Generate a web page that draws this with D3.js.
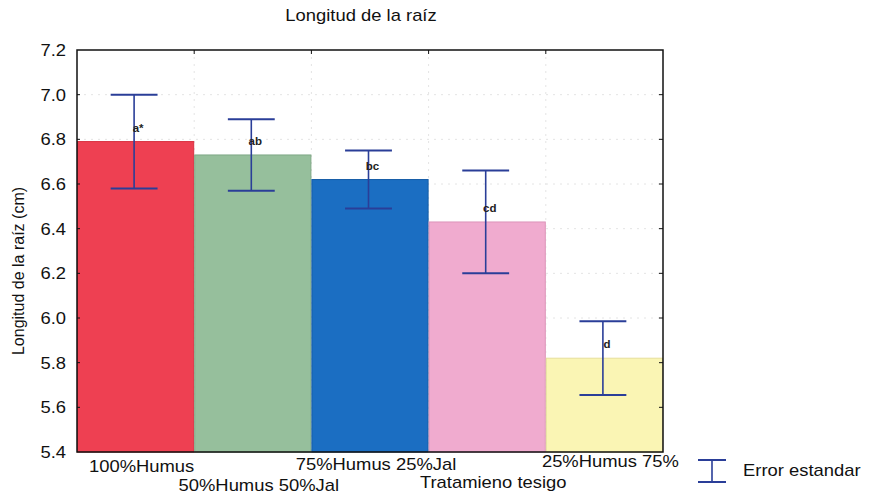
<!DOCTYPE html>
<html>
<head>
<meta charset="utf-8">
<script src="https://cdn.jsdelivr.net/npm/d3@7/dist/d3.min.js"></script>
<style>
  html, body { margin: 0; padding: 0; background: #fff; }
  text { font-family: "Liberation Sans", Arial, sans-serif; }
</style>
</head>
<body>
<svg id="chart" width="873" height="495"></svg>
<script>
// Root length per treatment: mean, standard error and significance letter
const categories = ["100%Humus", "50%Humus 50%Jal", "75%Humus 25%Jal", "Tratamieno tesigo", "25%Humus 75%"];
const means = [6.79, 6.73, 6.62, 6.43, 5.82];
const stdErr = [0.21, 0.16, 0.13, 0.23, 0.165];
const letters = ["a*", "ab", "bc", "cd", "d"];
const barColors = ["#ee4052", "#96bf9c", "#1b6ec2", "#f0abcf", "#faf5b4"];
const barEdges = ["#d83040", "#7fa886", "#155ca6", "#dc95ba", "#e6df9c"];
const yTicks = [5.4, 5.6, 5.8, 6.0, 6.2, 6.4, 6.6, 6.8, 7.0, 7.2];

const svg = d3.select("#chart");
const plot = { left: 77, right: 663, top: 50, bottom: 452 };
const SX = 1.15; // horizontal text stretch

const x = d3.scaleBand().domain(categories).range([plot.left, plot.right]).padding(0);
const y = d3.scaleLinear().domain([5.4, 7.2]).range([plot.bottom, plot.top]);

function label(g, px, py, str, size, anchor) {
  return g.append("text")
    .attr("transform", `translate(${px},${py}) scale(${SX},1)`)
    .attr("font-size", size)
    .attr("text-anchor", anchor || "middle")
    .attr("fill", "#111")
    .text(str);
}

// Faint dotted grid
const grid = svg.append("g");
grid.selectAll("line.h").data(yTicks.slice(1, -1)).join("line")
  .attr("x1", plot.left).attr("x2", plot.right)
  .attr("y1", d => y(d)).attr("y2", d => y(d))
  .attr("stroke", "#e4e4e4").attr("stroke-width", 1).attr("stroke-dasharray", "2,5");
grid.selectAll("line.v").data(categories.slice(1)).join("line")
  .attr("x1", d => x(d)).attr("x2", d => x(d))
  .attr("y1", plot.top).attr("y2", plot.bottom)
  .attr("stroke", "#e4e4e4").attr("stroke-width", 1).attr("stroke-dasharray", "2,5");

// Bars
svg.append("g").selectAll("rect").data(categories).join("rect")
  .attr("x", d => x(d) + 0.5)
  .attr("width", x.bandwidth() - 1)
  .attr("y", (d, i) => y(means[i]))
  .attr("height", (d, i) => plot.bottom - y(means[i]))
  .attr("fill", (d, i) => barColors[i])
  .attr("stroke", (d, i) => barEdges[i])
  .attr("stroke-width", 1);

// Error bars
const ebColor = "#2a3e98";
const capW = x.bandwidth() * 0.4;
const eb = svg.append("g").attr("stroke", ebColor).attr("fill", "none");
categories.forEach((c, i) => {
  const cx = x(c) + x.bandwidth() / 2 - 1.5;
  const hi = y(means[i] + stdErr[i]);
  const lo = y(means[i] - stdErr[i]);
  eb.append("line").attr("x1", cx).attr("x2", cx).attr("y1", hi).attr("y2", lo).attr("stroke-width", 1.6);
  eb.append("line").attr("x1", cx - capW / 2).attr("x2", cx + capW / 2).attr("y1", hi).attr("y2", hi).attr("stroke-width", 2);
  eb.append("line").attr("x1", cx - capW / 2).attr("x2", cx + capW / 2).attr("y1", lo).attr("y2", lo).attr("stroke-width", 2);
});

// Significance letters
const lg = svg.append("g");
categories.forEach((c, i) => {
  const cx = x(c) + x.bandwidth() / 2 + 2.5;
  label(lg, cx, y(means[i]) - 10, letters[i], 10, "middle").attr("font-weight", "bold").attr("fill", "#222");
});

// Frame and inner ticks
const frame = svg.append("g").attr("stroke", "#111").attr("fill", "none");
frame.append("rect")
  .attr("x", plot.left).attr("y", plot.top)
  .attr("width", plot.right - plot.left).attr("height", plot.bottom - plot.top)
  .attr("stroke-width", 1.5);
frame.selectAll("line.r").data(yTicks.slice(1, -1)).join("line")
  .attr("x1", plot.right).attr("x2", plot.right - 4)
  .attr("y1", d => y(d)).attr("y2", d => y(d)).attr("stroke-width", 1);
frame.selectAll("line.l").data(yTicks.slice(1, -1)).join("line")
  .attr("x1", plot.left).attr("x2", plot.left + 3)
  .attr("y1", d => y(d)).attr("y2", d => y(d)).attr("stroke-width", 1);
frame.selectAll("line.t").data(categories.slice(1)).join("line")
  .attr("x1", d => x(d)).attr("x2", d => x(d))
  .attr("y1", plot.top).attr("y2", plot.top + 4).attr("stroke-width", 1);

// Y tick labels
const yl = svg.append("g");
yTicks.forEach(v => {
  label(yl, 66, y(v) + 6, d3.format(".1f")(v), 16, "end");
});

// Category labels on two staggered rows
const xl = svg.append("g");
categories.forEach((c, i) => {
  const cx = x(c) + x.bandwidth() / 2 + 6;
  const row = i % 2 === 0 ? 472 : 492;
  label(xl, cx, row - (i * 1.2), c, 16, "middle");
});

// Titles
label(svg, 361, 21, "Longitud de la raíz", 16, "middle");
svg.append("text")
  .attr("transform", "translate(24,271) rotate(-90)")
  .attr("font-size", 16).attr("text-anchor", "middle").attr("fill", "#111")
  .text("Longitud de la raíz (cm)");

// Legend
const leg = svg.append("g");
const lx = 712;
leg.append("line").attr("x1", lx).attr("x2", lx).attr("y1", 460).attr("y2", 482).attr("stroke", ebColor).attr("stroke-width", 1.6);
leg.append("line").attr("x1", lx - 14).attr("x2", lx + 14).attr("y1", 460).attr("y2", 460).attr("stroke", ebColor).attr("stroke-width", 2);
leg.append("line").attr("x1", lx - 14).attr("x2", lx + 14).attr("y1", 482).attr("y2", 482).attr("stroke", ebColor).attr("stroke-width", 2);
label(leg, 743, 476, "Error estandar", 16, "start");
</script>
</body>
</html>
